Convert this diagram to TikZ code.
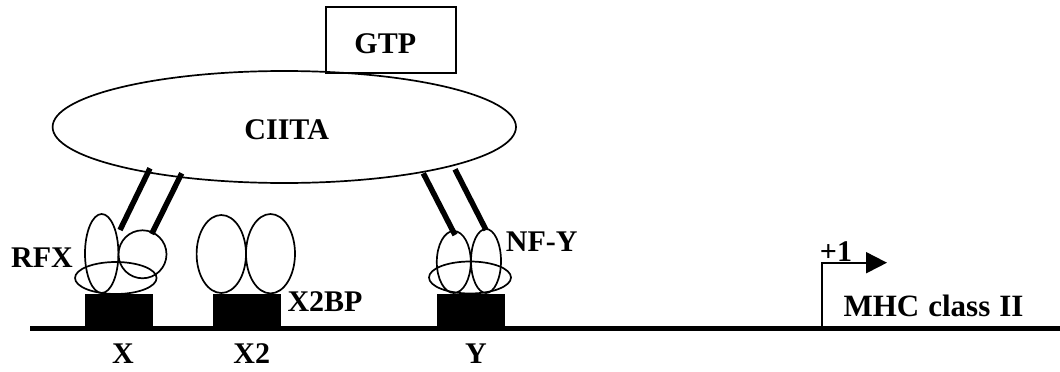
\documentclass[tikz,border=0pt]{standalone}
\usepackage{fontspec}
\setmainfont{Liberation Serif}
\usetikzlibrary{shapes.geometric,arrows.meta}
\begin{document}
\begin{tikzpicture}[x=1pt,y=-1pt,
  lbl/.style={font=\fontsize{30}{35}\selectfont\bfseries, inner sep=0pt},
  prot/.style={draw, ellipse, line width=1.7pt, inner sep=0pt},
  site/.style={fill=black, draw=none, inner sep=0pt, anchor=south},
  link/.style={line width=5.5pt},
]
\useasboundingbox (0,0) rectangle (1060,372);

% DNA strand
\coordinate (dnaL) at (30,328);
\coordinate (dnaR) at (1060,328);
\draw[line width=5pt] (dnaL) -- (dnaR);

% promoter boxes
\node[site, minimum width=68pt, minimum height=34pt] (sx)  at (119,328) {};
\node[site, minimum width=67.5pt, minimum height=34pt] (sx2) at (247,328) {};
\node[site, minimum width=68pt, minimum height=34pt] (sy)  at (471,328) {};
\node[lbl] (lx)  at (123,354) {X};
\node[lbl] (lx2) at (251.7,354) {X2};
\node[lbl] (ly)  at (476,354) {Y};

% RFX complex
\node[prot, minimum width=33.4pt, minimum height=79pt] (rfxa) at (101.7,253.5) {};
\node[prot, circle, minimum size=48pt] (rfxb) at (142.5,254.3) {};
\node[prot, minimum width=81.6pt, minimum height=32pt] (rfxc) at (115.8,278) {};
\node[lbl] (lrfx) at (42,258) {RFX};

% X2BP
\node[prot, minimum width=49.4pt, minimum height=78pt] (xbpa) at (221.3,254) {};
\node[prot, minimum width=49pt, minimum height=79.4pt] (xbpb) at (270.5,253.7) {};
\node[lbl] (lxbp) at (325,301.7) {X2BP};

% NF-Y complex
\node[prot, minimum width=34pt, minimum height=62pt] (nfya) at (453.8,262) {};
\node[prot, minimum width=30pt, minimum height=64pt] (nfyb) at (486,261) {};
\node[prot, minimum width=82pt, minimum height=32pt] (nfyc) at (470,277.5) {};
\node[lbl] (lnfy) at (541.7,241.7) {NF-Y};

% CIITA and GTP
\node[prot, minimum width=463.4pt, minimum height=112pt] (ciita) at (284.3,127) {};
\node[lbl] (lciita) at (286.7,130) {CIITA};
\node[draw, line width=1.7pt, minimum width=130.3pt, minimum height=66pt, inner sep=0pt] (gtp) at (390.8,39.7) {};
\node[lbl] (lgtp) at (385.3,43.5) {GTP};

% contacts between CIITA and the DNA-bound factors
\coordinate (ra1) at (150,168.3);   \coordinate (rb1) at (120,230);
\coordinate (ra2) at (181.7,173.3); \coordinate (rb2) at (151.7,234);
\coordinate (na1) at (423.3,173.3); \coordinate (nb1) at (455,235);
\coordinate (na2) at (455,169.3);   \coordinate (nb2) at (486,230);
\draw[link] (ra1) -- (rb1);
\draw[link] (ra2) -- (rb2);
\draw[link] (na1) -- (nb1);
\draw[link] (na2) -- (nb2);

% transcription start site
\coordinate (tss) at (821.7,328);
\coordinate (tssup) at (821.7,262.7);
\coordinate (tssend) at (887,262.7);
\draw[line width=2pt, -{Triangle[length=21pt,width=21pt]}] (tss) -- (tssup) -- (tssend);
\node[lbl] (lp1) at (836,252) {+1};
\node[lbl, font=\fontsize{31}{36}\selectfont\bfseries] (lmhc) at (933.5,306) {MHC\hspace{9pt}class\hspace{9pt}II};
\end{tikzpicture}
\end{document}
